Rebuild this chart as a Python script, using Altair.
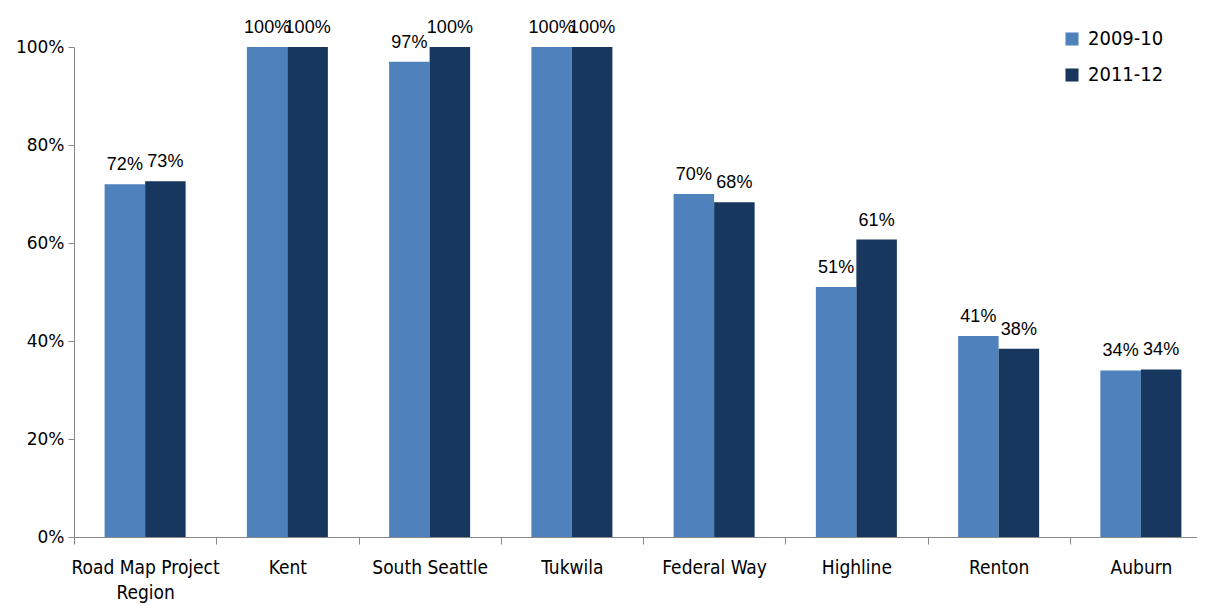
import altair as alt
import pandas as pd

categories = ["Road Map Project Region", "Kent", "South Seattle", "Tukwila",
              "Federal Way", "Highline", "Renton", "Auburn"]
series = ["2009-10", "2011-12"]
values_2009 = [0.72, 1.00, 0.97, 1.00, 0.70, 0.51, 0.41, 0.34]
values_2011 = [0.726, 1.00, 1.00, 1.00, 0.683, 0.607, 0.384, 0.342]
colors = ["#4F81BD", "#17375E"]

rows = []
for c, a, b in zip(categories, values_2009, values_2011):
    rows.append({"cat": c, "series": series[0], "value": a})
    rows.append({"cat": c, "series": series[1], "value": b})
df = pd.DataFrame(rows)

cond_font = "DejaVu Sans Condensed, Roboto Condensed, Liberation Sans Narrow, sans-serif"

x = alt.X("cat:N", sort=categories, title=None,
          scale=alt.Scale(paddingInner=0, paddingOuter=0, range=[0, 1138]),
          axis=alt.Axis(labelAngle=0, labelFont=cond_font, labelFontSize=19,
                        labelColor="#000000",
                        labelExpr="datum.label == 'Road Map Project Region' ? ['Road Map Project', 'Region'] : datum.label",
                        tickBand="extent", domainColor="#888888", tickColor="#888888",
                        tickSize=7, labelPadding=14, labelLineHeight=25))
y = alt.Y("value:Q", title=None,
          scale=alt.Scale(domain=[0, 1], nice=False),
          axis=alt.Axis(format=".0%", values=[0, 0.2, 0.4, 0.6, 0.8, 1.0], grid=False,
                        labelFont="DejaVu Sans", labelFontSize=17, labelColor="#000000",
                        domainColor="#888888", tickColor="#888888", tickSize=6, labelPadding=4))
color = alt.Color("series:N", scale=alt.Scale(domain=series, range=colors), title=None,
                  legend=alt.Legend(orient="none", legendX=988, legendY=-18,
                                    symbolType="square", symbolSize=170, symbolStrokeWidth=0,
                                    labelFont=cond_font, labelFontSize=20,
                                    labelColor="#000000", rowPadding=16, labelOffset=6))

base = alt.Chart(df).encode(
    x=x, y=y,
    xOffset=alt.XOffset("series:N", sort=series,
                        scale=alt.Scale(paddingInner=0, paddingOuter=0.756)))

bars = base.mark_bar().encode(color=color)
labels = base.mark_text(baseline="bottom", dy=-10, font="Liberation Sans", fontSize=18,
                        color="#000000").encode(text=alt.Text("value:Q", format=".0%"))

chart = (bars + labels).properties(
    width=1123, height=490,
    padding={"left": 66, "top": 39, "right": 0, "bottom": 70},
    autosize=alt.AutoSizeParams(type="none"),
).configure_view(stroke=None)

chart.save("out.html", embed_options={"renderer": "svg", "actions": False})
